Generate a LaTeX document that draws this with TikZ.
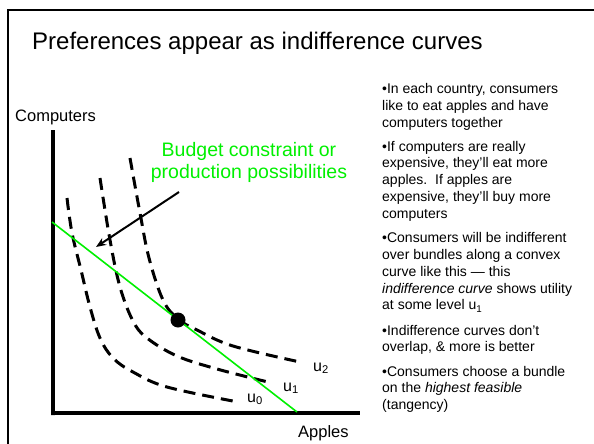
\documentclass[tikz,border=0pt]{standalone}
\usepackage{fontspec}
\setmainfont{Liberation Sans}
\usetikzlibrary{arrows.meta}
\definecolor{budgetgreen}{RGB}{0,240,0}
\begin{document}
\begin{tikzpicture}[x=1pt,y=-1pt,
  frameline/.style={line width=1.6pt,black},
  axisline/.style={line width=4pt,black},
  icurve/.style={line width=3pt,dash pattern=on 12pt off 7pt,black},
  budgetline/.style={line width=1.6pt,budgetgreen},
  pointer/.style={line width=2pt,-{Stealth[length=10pt,width=8pt]}},
  axislabel/.style={font=\fontsize{16.5}{19}\selectfont,inner sep=0pt},
  curvelabel/.style={font=\fontsize{16}{19}\selectfont,inner sep=0pt,anchor=base west},
  bullettext/.style={font=\fontsize{14}{16.8}\selectfont,align=left,inner sep=0pt,anchor=base west},
  optdot/.style={circle,fill=black,minimum size=15pt,inner sep=0pt}]
\useasboundingbox (0,0) rectangle (594,444);
\fill[white] (0,0) rectangle (594,444);

% slide frame
\draw[frameline] (8,450) -- (8,10) -- (600,10);

% title
\node[font=\fontsize{24}{28}\selectfont,inner sep=0pt,anchor=base west] (title) at (32,50)
  {Preferences appear as indifference curves};

% axes
\coordinate (origin) at (53,413);
\coordinate (ytop) at (53,130);
\coordinate (xend) at (360,413);
\draw[axisline] (ytop) -- (53,415) -- (origin) -- (xend);
\node[axislabel,anchor=base west] (ylabel) at (15,121) {Computers};
\node[axislabel,anchor=base west] (xlabel) at (298,437) {Apples};

% indifference curves
\draw[icurve] plot[smooth,tension=0.6] coordinates
  {(67,198) (72,233) (81,270) (90,307) (100,338) (113,358) (133,372) (167,387) (238,402)};
\draw[icurve] plot[smooth,tension=0.6] coordinates
  {(100,178) (110,240) (120,287) (133,321) (147,338) (177,356) (217,369) (268,382)};
\draw[icurve] plot[smooth,tension=0.6] coordinates
  {(130,158) (140,213) (149,258) (163,300) (178,319) (197,330) (233,346) (300,362)};

\node[curvelabel] (u2) at (313,371) {u\textsubscript{2}};
\node[curvelabel] (u1) at (283,391) {u\textsubscript{1}};
\node[curvelabel] (u0) at (247,402) {u\textsubscript{0}};

% budget line and chosen bundle
\coordinate (bstart) at (52,222);
\coordinate (bend) at (297,412);
\draw[budgetline] (bstart) -- (bend);
\node[optdot] (opt) at (178,320) {};

% budget line label (anchored at the baseline of its last line) and pointer
\node[font=\fontsize{19.5}{21.5}\selectfont,text=budgetgreen,align=center,inner sep=0pt,anchor=base] (budget) at (249,178)
  {Budget constraint or\\production possibilities};
\coordinate (ptail) at (179,192);
\coordinate (phead) at (96,247);
\draw[pointer] (ptail) -- (phead);

% notes, each anchored at the baseline of its last line
\node[bullettext] (n1) at (382,127.1)
  {\textbullet In each country, consumers\\like to eat apples and have\\computers together};
\node[bullettext] (n2) at (382,218.2)
  {\textbullet If computers are really\\expensive, they’ll eat more\\apples.\ \ If apples are\\expensive, they’ll buy more\\computers};
\node[bullettext] (n3) at (382,309.9)
  {\textbullet Consumers will be indifferent\\over bundles along a convex\\curve like this — this\\\textit{indifference curve} shows utility\\at some level u\textsubscript{1}};
\node[bullettext] (n4) at (382,351.8)
  {\textbullet Indifference curves don’t\\overlap, \& more is better};
\node[bullettext] (n5) at (382,409.6)
  {\textbullet Consumers choose a bundle\\on the \textit{highest feasible}\\(tangency)};
\end{tikzpicture}
\end{document}
